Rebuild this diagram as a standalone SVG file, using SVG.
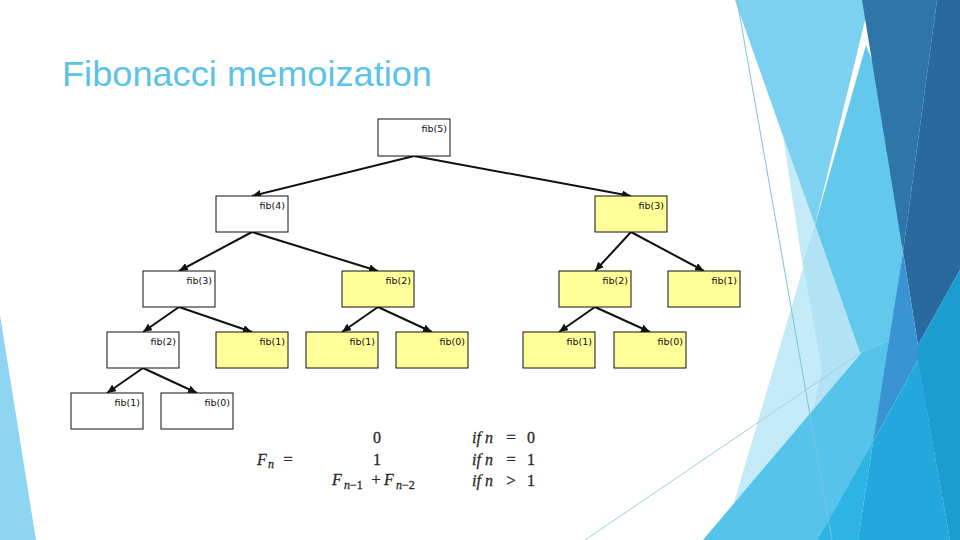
<svg xmlns="http://www.w3.org/2000/svg" width="960" height="540" viewBox="0 0 960 540">
<defs>
<marker id="ah" markerUnits="userSpaceOnUse" markerWidth="10" markerHeight="8" refX="9" refY="4" orient="auto">
<path d="M0,0 L9,4 L0,8 Z" fill="#111"/>
</marker>
<style>
.box{stroke:#111;stroke-width:1}
.w{fill:#ffffff}
.y{fill:#ffff99}
.lbl{font-family:"DejaVu Sans","Liberation Sans",sans-serif;font-size:9.5px;fill:#111;text-anchor:end}
.edge{stroke:#111;stroke-width:2;fill:none;marker-end:url(#ah)}
.m{font-family:"Liberation Serif","DejaVu Serif",serif;font-size:16px;fill:#2a2a2a;stroke:#2a2a2a;stroke-width:0.3}
.it{font-style:italic}
.s{font-size:12px}
.eq{font-size:17px;text-anchor:middle}
</style>
</defs>
<rect width="960" height="540" fill="#ffffff"/>
<g id="background">
<polygon points="0,315 36,540 0,540" fill="#8dd5f0"/>
<polygon points="783,136 803,268 723,540 800,540 860,353 815,225" fill="#c5eaf8"/>
<polygon points="735,0 870,0 815,225 783,136" fill="#7dd1f0"/>
<polygon points="866,45 815,225 860,353 890,340 903,252 895,120" fill="#62c8ec"/>
<polygon points="803,263 815,225 860,353 813,410 822,370" fill="#b2e3f5"/>
<polygon points="862,0 937,0 903,252" fill="#2e76a8"/>
<polygon points="937,0 960,0 960,270 918,345 903,252" fill="#2a699f"/>
<polygon points="703,540 862,352 890,340 873,443 817,540" fill="#56c4ea"/>
<polygon points="903,252 918,345 918,360 873,442" fill="#3a94d3"/>
<polygon points="817,540 873,442 858,540" fill="#2db3e4"/>
<polygon points="873,442 918,360 950,540 858,540" fill="#22a8dd"/>
<polygon points="960,270 918,345 918,362 950,540 960,540" fill="#1c9dd0"/>
<line x1="737" y1="0" x2="832" y2="540" stroke="#7cc3dc" stroke-width="1"/>
<line x1="585" y1="540" x2="862" y2="352" stroke="#9fd0e0" stroke-width="1"/>
</g>
<g id="title">
<text x="62" y="86" font-family="Liberation Sans, Arial, sans-serif" font-size="35" fill="#5cc3e6" textLength="370" lengthAdjust="spacingAndGlyphs">Fibonacci memoization</text>
</g>
<g id="connectors">
<line class="edge" x1="414" y1="156" x2="252" y2="196"/>
<line class="edge" x1="414" y1="156" x2="631" y2="196"/>
<line class="edge" x1="252" y1="232" x2="179" y2="271"/>
<line class="edge" x1="252" y1="232" x2="378" y2="271"/>
<line class="edge" x1="631" y1="232" x2="595" y2="271"/>
<line class="edge" x1="631" y1="232" x2="704" y2="271"/>
<line class="edge" x1="179" y1="307" x2="143" y2="332"/>
<line class="edge" x1="179" y1="307" x2="252" y2="332"/>
<line class="edge" x1="378" y1="307" x2="342" y2="332"/>
<line class="edge" x1="378" y1="307" x2="432" y2="332"/>
<line class="edge" x1="595" y1="307" x2="559" y2="332"/>
<line class="edge" x1="595" y1="307" x2="650" y2="332"/>
<line class="edge" x1="143" y1="368" x2="107" y2="393"/>
<line class="edge" x1="143" y1="368" x2="197" y2="393"/>
</g>
<g id="fib5"><rect class="box w" x="378" y="119" width="72" height="37"/><text class="lbl" x="447" y="132">fib(5)</text></g>
<g id="fib4"><rect class="box w" x="216" y="196" width="72" height="36"/><text class="lbl" x="285" y="209">fib(4)</text></g>
<g id="fib3r"><rect class="box y" x="595" y="196" width="72" height="36"/><text class="lbl" x="664" y="209">fib(3)</text></g>
<g id="fib3l"><rect class="box w" x="143" y="271" width="72" height="36"/><text class="lbl" x="212" y="284">fib(3)</text></g>
<g id="fib2m"><rect class="box y" x="342" y="271" width="72" height="36"/><text class="lbl" x="411" y="284">fib(2)</text></g>
<g id="fib2r"><rect class="box y" x="559" y="271" width="72" height="36"/><text class="lbl" x="628" y="284">fib(2)</text></g>
<g id="fib1r"><rect class="box y" x="668" y="271" width="72" height="36"/><text class="lbl" x="737" y="284">fib(1)</text></g>
<g id="fib2l"><rect class="box w" x="107" y="332" width="72" height="36"/><text class="lbl" x="176" y="345">fib(2)</text></g>
<g id="fib1a"><rect class="box y" x="216" y="332" width="72" height="36"/><text class="lbl" x="285" y="345">fib(1)</text></g>
<g id="fib1b"><rect class="box y" x="306" y="332" width="72" height="36"/><text class="lbl" x="375" y="345">fib(1)</text></g>
<g id="fib0a"><rect class="box y" x="396" y="332" width="72" height="36"/><text class="lbl" x="465" y="345">fib(0)</text></g>
<g id="fib1c"><rect class="box y" x="523" y="332" width="72" height="36"/><text class="lbl" x="592" y="345">fib(1)</text></g>
<g id="fib0b"><rect class="box y" x="614" y="332" width="72" height="36"/><text class="lbl" x="683" y="345">fib(0)</text></g>
<g id="fib1d"><rect class="box w" x="71" y="393" width="72" height="36"/><text class="lbl" x="140" y="406">fib(1)</text></g>
<g id="fib0c"><rect class="box w" x="161" y="393" width="72" height="36"/><text class="lbl" x="230" y="406">fib(0)</text></g>
<g id="formula">
<text class="m it" x="257" y="465">F</text>
<text class="m it s" x="268" y="468">n</text>
<text class="m eq" x="288" y="465">=</text>
<text class="m" x="377" y="443" text-anchor="middle">0</text>
<text class="m" x="377" y="465" text-anchor="middle">1</text>
<text class="m it" x="332" y="485">F</text>
<text class="m s" x="344" y="489"><tspan class="it">n</tspan>−1</text>
<text class="m eq" x="376" y="485">+</text>
<text class="m it" x="384" y="485">F</text>
<text class="m s" x="396" y="489"><tspan class="it">n</tspan>−2</text>
<text class="m it" x="472" y="443">if</text>
<text class="m it" x="485" y="443">n</text>
<text class="m eq" x="511" y="443">=</text>
<text class="m" x="527" y="443">0</text>
<text class="m it" x="472" y="465">if</text>
<text class="m it" x="485" y="465">n</text>
<text class="m eq" x="511" y="465">=</text>
<text class="m" x="527" y="465">1</text>
<text class="m it" x="472" y="486">if</text>
<text class="m it" x="485" y="486">n</text>
<text class="m eq" x="511" y="486">&gt;</text>
<text class="m" x="527" y="486">1</text>
</g>
</svg>
